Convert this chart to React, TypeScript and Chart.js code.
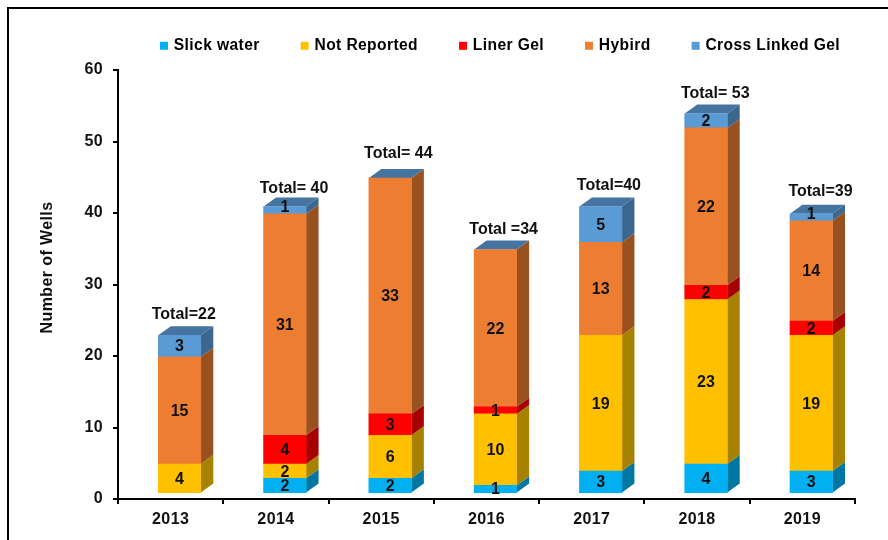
import React, { useEffect, useRef } from "react";
import { Chart, registerables } from "chart.js";

Chart.register(...registerables);

const years = ["2013", "2014", "2015", "2016", "2017", "2018", "2019"];
const slickWater = [0, 2, 2, 1, 3, 4, 3];
const notReported = [4, 2, 6, 10, 19, 23, 19];
const linerGel = [0, 4, 3, 1, 0, 2, 2];
const hybird = [15, 31, 33, 22, 13, 22, 14];
const crossLinkedGel = [3, 1, 0, 0, 5, 2, 1];
const seriesNames = ["Slick water", "Not Reported", "Liner Gel", "Hybird", "Cross Linked Gel"];
const seriesColors = ["#00B0F0", "#FFC000", "#FF0000", "#ED7D31", "#5B9BD5"];
const totalLabels = ["Total=22", "Total= 40", "Total= 44", "Total =34", "Total=40", "Total= 53", "Total=39"];
const yTicksMax = 60;

const FONT = '"Liberation Sans", Arial, sans-serif';
const DEPTH_X = 12.5;
const DEPTH_Y = 9;
const totalNudgeX = [-2, 3, 2, 2, 2, 3, 3];
const totalNudgeY = [0, 3, -3, 1, 0, 1, -1];

const sideColors = ["#0077A3", "#A68200", "#A60000", "#9A5120", "#3B668E"];
const topColor = "#44749F";

const threeD = {
  id: "threeD",
  afterInit(chart: any) {
    chart.ctx.letterSpacing = "0.4px";
  },
  beforeDatasetsDraw(chart: any) {
    const { ctx } = chart;
    ctx.save();
    chart.data.datasets.forEach((_: any, di: number) => {
      const meta = chart.getDatasetMeta(di);
      meta.data.forEach((bar: any) => {
        const r = bar.x + bar.width / 2;
        if (Math.abs(bar.base - bar.y) < 0.01) return;
        ctx.fillStyle = sideColors[di];
        ctx.beginPath();
        ctx.moveTo(r, bar.y);
        ctx.lineTo(r + DEPTH_X, bar.y - DEPTH_Y);
        ctx.lineTo(r + DEPTH_X, bar.base - DEPTH_Y);
        ctx.lineTo(r, bar.base);
        ctx.closePath();
        ctx.fill();
      });
    });
    const lastMeta = chart.getDatasetMeta(chart.data.datasets.length - 1);
    lastMeta.data.forEach((bar: any) => {
      const l = bar.x - bar.width / 2;
      const r = bar.x + bar.width / 2;
      ctx.fillStyle = topColor;
      ctx.beginPath();
      ctx.moveTo(l, bar.y);
      ctx.lineTo(r, bar.y);
      ctx.lineTo(r + DEPTH_X, bar.y - DEPTH_Y);
      ctx.lineTo(l + DEPTH_X, bar.y - DEPTH_Y);
      ctx.closePath();
      ctx.fill();
    });
    ctx.restore();
  },
  afterDatasetsDraw(chart: any) {
    const { ctx } = chart;
    ctx.save();
    ctx.letterSpacing = "0px";
    ctx.font = `bold 16px ${FONT}`;
    ctx.fillStyle = "#111111";
    ctx.textAlign = "center";
    ctx.textBaseline = "middle";
    chart.data.datasets.forEach((ds: any, di: number) => {
      chart.getDatasetMeta(di).data.forEach((bar: any, i: number) => {
        const v = ds.data[i];
        if (!v) return;
        const lift = di === chart.data.datasets.length - 1 && v === 1 ? -3 : 1;
        ctx.fillText(String(v), bar.x, (bar.y + bar.base) / 2 + lift);
      });
    });
    const lastMeta = chart.getDatasetMeta(chart.data.datasets.length - 1);
    lastMeta.data.forEach((bar: any, i: number) => {
      ctx.fillText(
        totalLabels[i],
        bar.x + DEPTH_X / 2 + totalNudgeX[i],
        bar.y - DEPTH_Y - 12 + totalNudgeY[i]
      );
    });
    ctx.restore();
  },
};

const legendPlace = {
  id: "legendPlace",
  afterLayout(chart: any) {
    const lg = chart.legend;
    if (lg) {
      lg.left = 119;
      lg.right = 1000;
      lg.top = -5;
      lg.bottom = 70;
    }
    const yScale = chart.scales.y;
    if (yScale && !yScale._titleShifted) {
      yScale._titleShifted = true;
      const original = yScale.drawTitle.bind(yScale);
      yScale.drawTitle = () => {
        chart.ctx.save();
        chart.ctx.translate(2, -17);
        original();
        chart.ctx.restore();
      };
    }
  },
};

export default function App() {
  const ref = useRef<HTMLCanvasElement>(null);
  useEffect(() => {
    const values = [slickWater, notReported, linerGel, hybird, crossLinkedGel];
    const chart = new Chart(ref.current!, {
      type: "bar",
      data: {
        labels: years,
        datasets: values.map((data, i) => ({
          label: seriesNames[i],
          data: [...data],
          backgroundColor: (c: any) => (c.raw === 0 ? "rgba(0,0,0,0)" : seriesColors[i]),
          borderWidth: 0,
          barThickness: 42.5,
          xAxisID: "x2",
          yAxisID: "y2",
        })),
      },
      plugins: [threeD, legendPlace],
      options: {
        responsive: false,
        animation: false,
        layout: { padding: { left: 30, top: 40, right: 33, bottom: 0 } },
        plugins: {
          tooltip: { enabled: false },
          title: { display: false },
          legend: {
            display: true,
            position: "top",
            align: "start",
            maxHeight: 30,
            labels: {
              boxWidth: 4,
              boxHeight: 4,
              padding: 43,
              color: "#111111",
              font: { family: FONT, size: 15.6, weight: "bold" },
              generateLabels: (c: any) =>
                c.data.datasets.map((d: any, i: number) => ({
                  text: d.label,
                  fillStyle: seriesColors[i],
                  strokeStyle: seriesColors[i],
                  lineWidth: 4,
                  datasetIndex: i,
                })),
            },
          },
        },
        scales: {
          x: {
            type: "category",
            position: "bottom",
            offset: true,
            grid: { offset: true, drawOnChartArea: false, color: "#000000", lineWidth: 2, tickLength: 5, tickColor: "#000000" },
            border: { color: "#000000", width: 2 },
            ticks: { color: "#111111", padding: 6, maxRotation: 0, autoSkip: false, font: { family: FONT, size: 16, weight: "bold" } },
            afterFit: (s: any) => { s.height = 41; },
          },
          y: {
            type: "linear",
            position: "left",
            min: 0,
            max: yTicksMax,
            grid: { drawOnChartArea: false, color: "#000000", lineWidth: 2, tickLength: 5, tickColor: "#000000" },
            border: { color: "#000000", width: 2 },
            ticks: { stepSize: 10, color: "#111111", padding: 10, font: { family: FONT, size: 16, weight: "bold" } },
            title: {
              display: true,
              text: "Number of Wells",
              color: "#111111",
              padding: { top: 6, bottom: 0 },
              font: { family: FONT, size: 16, weight: "bold" },
            },
            afterFit: (s: any) => { s.width = 88; },
          },
          x2: {
            type: "linear",
            axis: "x",
            display: false,
            stacked: true,
            offset: false,
            min: 2012.4155,
            max: 2019.4155,
            grid: { display: false },
          },
          y2: {
            type: "linear",
            axis: "y",
            display: false,
            stacked: true,
            min: -0.9,
            max: yTicksMax - 0.9,
            grid: { display: false },
          },
        },
      } as any,
    });
    return () => chart.destroy();
  }, []);
  return (
    <div style={{ position: "absolute", left: 0, top: 0, width: 888, height: 540, background: "#fff", overflow: "hidden" }}>
      <div style={{ position: "absolute", left: 7, top: 7, right: -10, bottom: -10, borderLeft: "2px solid #000", borderTop: "2px solid #000" }} />
      <canvas ref={ref} width={888} height={540} style={{ position: "absolute", left: 0, top: 0, display: "block" }} />
    </div>
  );
}
